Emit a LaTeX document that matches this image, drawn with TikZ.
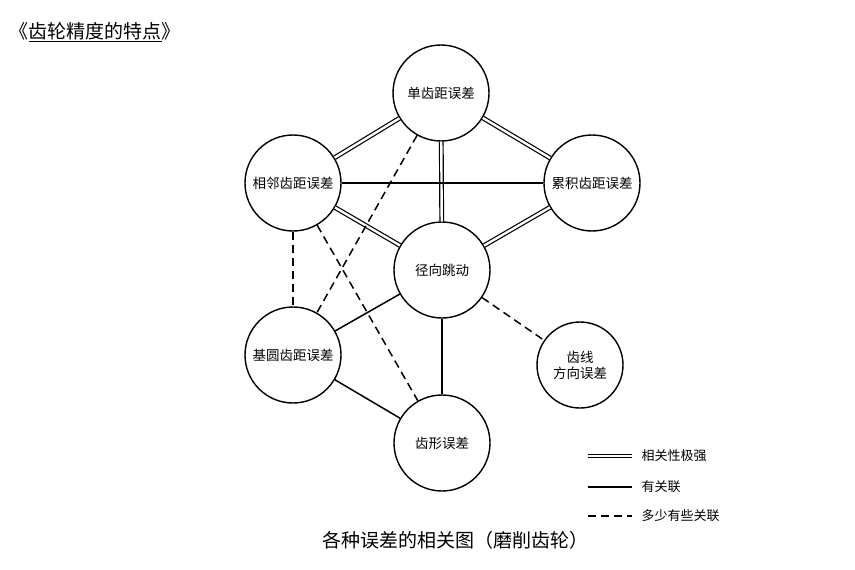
\documentclass[tikz,border=0pt]{standalone}
\usepackage{fontspec}
\setmainfont{Noto Sans CJK SC}
\usetikzlibrary{positioning}
\tikzset{
  err/.style={draw,circle,line width=1.4pt,minimum size=96pt,inner sep=0pt,align=center,font=\fontsize{13.5}{16}\selectfont},
  strong/.style={double,double distance=2.4pt,line width=1.2pt},
  rel/.style={line width=1.5pt},
  weak/.style={line width=1.5pt,dash pattern=on 8pt off 5pt},
}
\begin{document}
\begin{tikzpicture}[x=1pt,y=-1pt]
\useasboundingbox (0,0) rectangle (855,570);

% circles
\node[err] (dan)  at (441,93)  {单齿距误差};
\node[err] (xl)   at (293,183) {相邻齿距误差};
\node[err] (lj)   at (592,183) {累积齿距误差};
\node[err] (jx)   at (442,270) {径向跳动};
\node[err] (jy)   at (293,355) {基圆齿距误差};
\node[err,minimum size=86pt] (cx) at (580,365) {齿线\\方向误差};
\node[err] (cxw)  at (442,443) {齿形误差};

% very strong
\draw[strong] (dan) -- (xl);
\draw[strong] (dan) -- (lj);
\draw[strong] (dan) -- (jx);
\draw[strong] (xl) -- (jx);
\draw[strong] (jx) -- (lj);
% related
\draw[rel] (xl) -- (lj);
\draw[rel] (jx) -- (jy);
\draw[rel] (jx) -- (cxw);
\draw[rel] (jy) -- (cxw);
% somewhat related
\draw[weak] (xl) -- (jy);
\draw[weak] (dan) -- (jy);
\draw[weak] (xl) -- (cxw);
\draw[weak] (jx) -- (cx);

% legend
\coordinate (l1a) at (588,456); \coordinate (l1b) at (632,456);
\coordinate (l2a) at (588,487); \coordinate (l2b) at (632,487);
\coordinate (l3a) at (588,516); \coordinate (l3b) at (632,516);
\draw[strong] (l1a) -- (l1b);
\draw[rel] (l2a) -- (l2b);
\draw[weak] (l3a) -- (l3b);
\node[anchor=west,font=\fontsize{13}{15}\selectfont] (t1) at (638,456) {相关性极强};
\node[anchor=west,font=\fontsize{13}{15}\selectfont] (t2) at (638,487) {有关联};
\node[anchor=west,font=\fontsize{13}{15}\selectfont] (t3) at (638,516) {多少有些关联};

% title and caption
\node[anchor=west,font=\fontsize{19}{22}\selectfont] (title) at (6,32) {《\underline{齿轮精度的特点}》};
\node[font=\fontsize{19}{22}\selectfont] (cap) at (455,540) {各种误差的相关图（磨削齿轮）};
\end{tikzpicture}
\end{document}
